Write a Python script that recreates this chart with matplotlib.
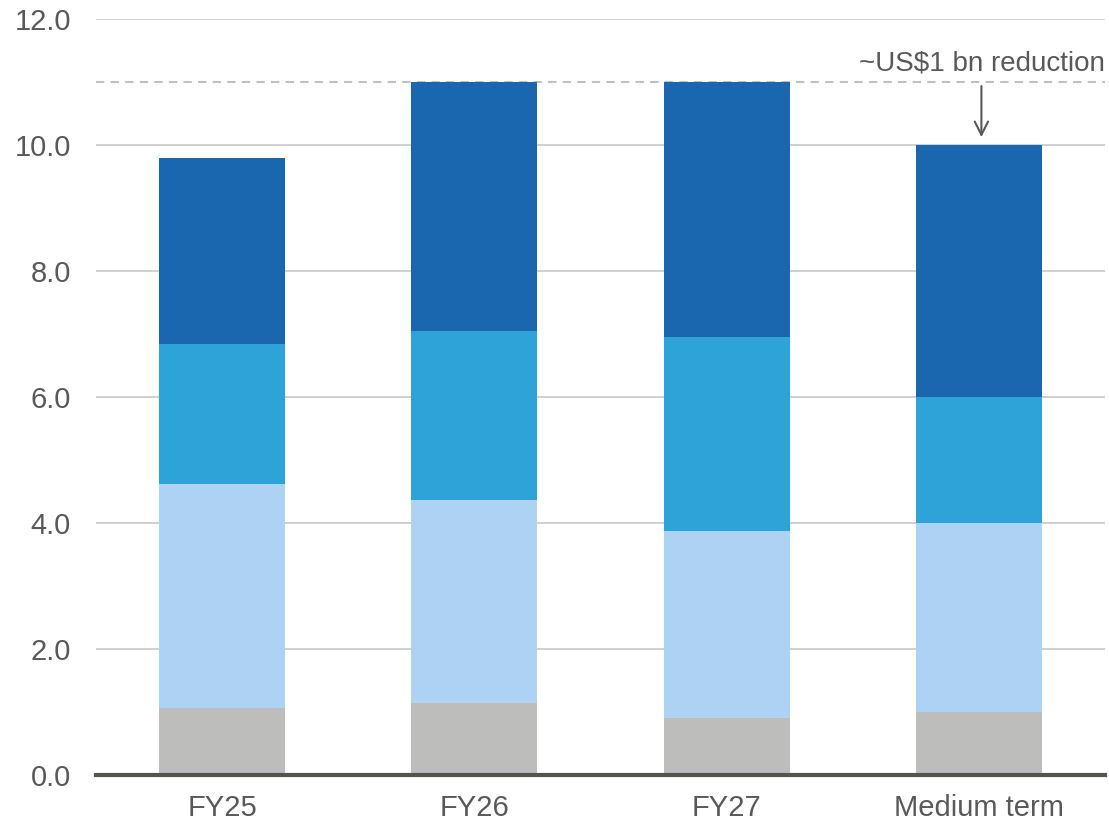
import matplotlib
matplotlib.use("Agg")
import matplotlib.pyplot as plt
import numpy as np

plt.rcParams['font.family'] = ['Liberation Sans', 'DejaVu Sans']

categories = ["FY25", "FY26", "FY27", "Medium term"]
seg_gray = [1.06, 1.14, 0.91, 1.0]
seg_light = [3.56, 3.22, 2.97, 3.0]
seg_mid = [2.22, 2.69, 3.08, 2.0]
seg_dark = [2.95, 3.95, 4.04, 4.0]
yticks = [0, 2, 4, 6, 8, 10, 12]
ref_level = 11.0
annotation = "~US$1 bn reduction"

c_gray = "#BDBDBC"
c_light = "#AED2F3"
c_mid = "#2DA3D8"
c_dark = "#1A67B0"
txt = "#595959"

fig = plt.figure(figsize=(11.09, 8.23), dpi=100)
ax = fig.add_axes([0.0866, 0.0583, 0.9098, 0.9186])

x = np.arange(len(categories))
w = 0.5
bottom = np.zeros(len(categories))
for vals, col in [(seg_gray, c_gray), (seg_light, c_light), (seg_mid, c_mid), (seg_dark, c_dark)]:
    ax.bar(x, vals, width=w, bottom=bottom, color=col, edgecolor='none', zorder=3)
    bottom = bottom + np.array(vals)

ax.set_xlim(-0.5, 3.5)
ax.set_ylim(0, 12)
ax.set_yticks(yticks)
ax.set_yticklabels([f"{v:.1f}" for v in yticks])
ax.set_xticks(x)
ax.set_xticklabels(categories)
ax.tick_params(axis='both', length=0, labelsize=21, colors=txt)
ax.tick_params(axis='y', pad=18)
ax.tick_params(axis='x', pad=14)

ax.yaxis.grid(True, color="#C8C8C8", linewidth=1.2, zorder=0)
ax.set_axisbelow(True)
for s in ['top', 'right', 'left']:
    ax.spines[s].set_visible(False)
ax.spines['bottom'].set_color("#555550")
ax.spines['bottom'].set_linewidth(3)
ax.spines['bottom'].set_zorder(5)

ax.axhline(ref_level, color="#C0C0C0", linewidth=1.5, linestyle=(0, (4, 3)), zorder=2)

ax.text(3.5, 11.3, annotation, ha='right', va='center', fontsize=20, color=txt)
ax.annotate("", xy=(x[3] + 0.01, bottom[3] + 0.08), xytext=(x[3] + 0.01, ref_level - 0.02),
            arrowprops=dict(arrowstyle='->', color=txt, lw=1.5, mutation_scale=24))

fig.savefig("out.png", dpi=100)
